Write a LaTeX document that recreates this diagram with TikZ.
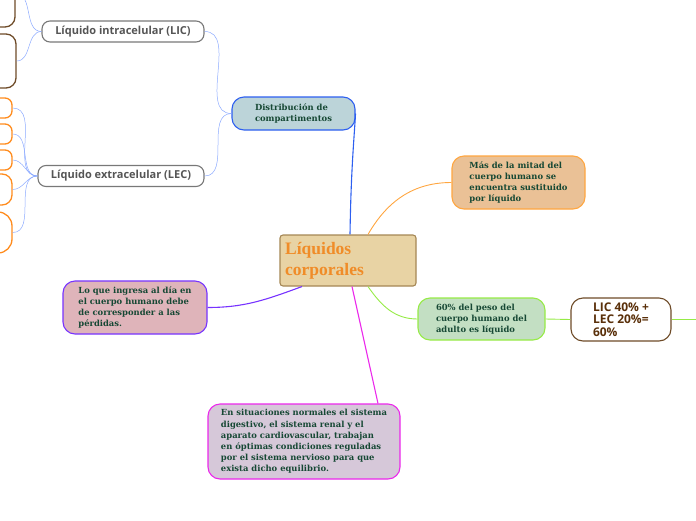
\documentclass[tikz,border=0pt]{standalone}
\usepackage{fontspec}
\newfontfamily\nodeserif{DejaVu Serif}
\newfontfamily\titleserif{Liberation Serif}
\newfontfamily\nodesans{Open Sans}
\usetikzlibrary{calc}
\definecolor{ctext}{RGB}{22,72,52}
\definecolor{cgraytext}{RGB}{85,85,85}
\definecolor{cgrayedge}{RGB}{120,120,120}
\definecolor{clink}{RGB}{140,170,255}
\definecolor{cblue}{RGB}{188,212,217}
\definecolor{cblueedge}{RGB}{45,95,240}
\definecolor{ctitle}{RGB}{232,211,164}
\definecolor{ctitleedge}{RGB}{165,135,85}
\definecolor{ctitletext}{RGB}{240,140,40}
\definecolor{camber}{RGB}{234,193,150}
\definecolor{camberedge}{RGB}{255,166,64}
\definecolor{cgreen}{RGB}{195,223,195}
\definecolor{cgreenedge}{RGB}{150,235,70}
\definecolor{cbrownedge}{RGB}{110,75,40}
\definecolor{cbrowntext}{RGB}{90,48,10}
\definecolor{crose}{RGB}{223,180,186}
\definecolor{cpurpleedge}{RGB}{119,51,255}
\definecolor{clilac}{RGB}{214,200,217}
\definecolor{cmagentaedge}{RGB}{235,40,235}
\definecolor{corangeedge}{RGB}{255,140,30}
\tikzset{
  idea/.style={     % serif idea bubble
    rounded corners=12pt, line width=1.1pt, inner sep=2pt,
    align=left, text=ctext,
    font=\nodeserif\bfseries\fontsize{8.4}{11.2}\selectfont
  },
  topic/.style={    % grey sans topic
    draw=cgrayedge, fill=white, rounded corners=8pt, line width=1.1pt,
    minimum height=21pt, inner sep=0pt, text=cgraytext,
    font=\nodesans\bfseries\fontsize{11}{12}\selectfont
  },
  stub/.style={     % clipped child at left border
    fill=white, rounded corners=10pt, line width=1.3pt,
    minimum width=100pt, inner sep=0pt
  },
  thin/.style={draw=clink, line width=0.5pt},
  link/.style={line width=1.1pt},
}
\begin{document}
\begin{tikzpicture}[x=1pt, y=-1pt]
\useasboundingbox (0,0) rectangle (696,520);
\clip (0,0) rectangle (696,520);

%% central topic
\node[idea, draw=ctitleedge, fill=ctitle, rounded corners=3pt,
      minimum width=136pt, minimum height=51pt, text=ctitletext,
      font=\titleserif\bfseries\fontsize{17.5}{21}\selectfont]
  (central) at (348,260.5)
  {Líquidos\hspace*{47pt}\\corporales\hspace*{47pt}};

%% upper branch
\node[idea, draw=cblueedge, fill=cblue, minimum width=123pt,
      minimum height=33pt] (distrib) at (293.5,113.5)
  {Distribución de\\compartimentos};

\node[topic, minimum width=162pt] (lic) at (123,31.5) {Líquido intracelular (LIC)};
\node[topic, minimum width=166pt] (lec) at (121,176) {Líquido extracelular (LEC)};

% children cut off at the left edge
\node[stub, draw=cbrownedge, minimum height=67pt] (lic1) at (-35,-6.5) {};
\node[stub, draw=cbrownedge, minimum height=54pt] (lic2) at (-34,61) {};
\node[stub, draw=corangeedge, minimum height=20pt, rounded corners=7pt] (lec1) at (-38,108) {};
\node[stub, draw=corangeedge, minimum height=20pt, rounded corners=7pt] (lec2) at (-38,134) {};
\node[stub, draw=corangeedge, minimum height=20pt, rounded corners=7pt] (lec3) at (-38,160) {};
\node[stub, draw=corangeedge, minimum height=31pt] (lec4) at (-38,189.5) {};
\node[stub, draw=corangeedge, minimum height=41pt, rounded corners=14pt] (lec5) at (-38,232.5) {};

%% right branch
\node[idea, draw=camberedge, fill=camber, minimum width=133pt,
      minimum height=53pt] (mitad) at (518.5,182.5)
  {Más de la mitad del\\cuerpo humano se\\encuentra sustituido\\por líquido};

\node[idea, draw=cgreenedge, fill=cgreen, minimum width=127pt,
      minimum height=42pt] (peso) at (481.5,319)
  {60\% del peso del\\cuerpo humano del\\adulto es líquido};

\node[idea, draw=cbrownedge, fill=white, minimum width=100pt,
      minimum height=43pt, text=cbrowntext,
      font=\nodesans\bfseries\fontsize{12}{12.5}\selectfont] (suma) at (621,319.5)
  {LIC 40\% +\\LEC 20\%=\\60\%};
\coordinate (sumaout) at (696,319.5);

%% lower branch
\node[idea, draw=cpurpleedge, fill=crose, minimum width=144pt,
      minimum height=53pt] (ingreso) at (135,307.5)
  {Lo que ingresa al día en\\el cuerpo humano debe\\de corresponder a las\\pérdidas.};

\node[idea, draw=cmagentaedge, fill=clilac, minimum width=192pt,
      minimum height=75pt] (equilibrio) at (304,441.5)
  {En situaciones normales el sistema\\digestivo, el sistema renal y el\\aparato cardiovascular, trabajan\\en óptimas condiciones reguladas\\por el sistema nervioso para que\\exista dicho equilibrio.};

%% connectors
\draw[link, cblueedge] ([xshift=2pt]central.north)
  .. controls (351,170) and (354,140) .. (distrib.east);
\draw[thin] (distrib.west) to[out=180, in=0] (lic.east);
\draw[thin] (distrib.west) to[out=180, in=0] (lec.east);
\foreach \c in {lic1, lic2}
  \draw[thin] (lic.west) to[out=180, in=0] (\c.east);
\foreach \c in {lec1, lec2, lec3, lec4, lec5}
  \draw[thin] (lec.west) to[out=180, in=0] (\c.east);

\draw[link, camberedge, line width=0.9pt] ([xshift=20pt]central.north)
  to[out=60, in=180] (mitad.west);
\draw[link, cgreenedge, line width=0.9pt] ([xshift=20pt]central.south)
  to[out=-55, in=180] (peso.west);
\draw[link, cgreenedge, line width=0.9pt] (peso.east) -- (suma.west);
\draw[link, cgreenedge, line width=0.9pt] (suma.east) -- (sumaout);
\draw[link, cpurpleedge] ([xshift=-46pt]central.south)
  to[out=-160, in=0] (ingreso.east);
\draw[link, cmagentaedge] ([xshift=4pt]central.south)
  -- ([xshift=74pt]equilibrio.north);

\end{tikzpicture}
\end{document}
